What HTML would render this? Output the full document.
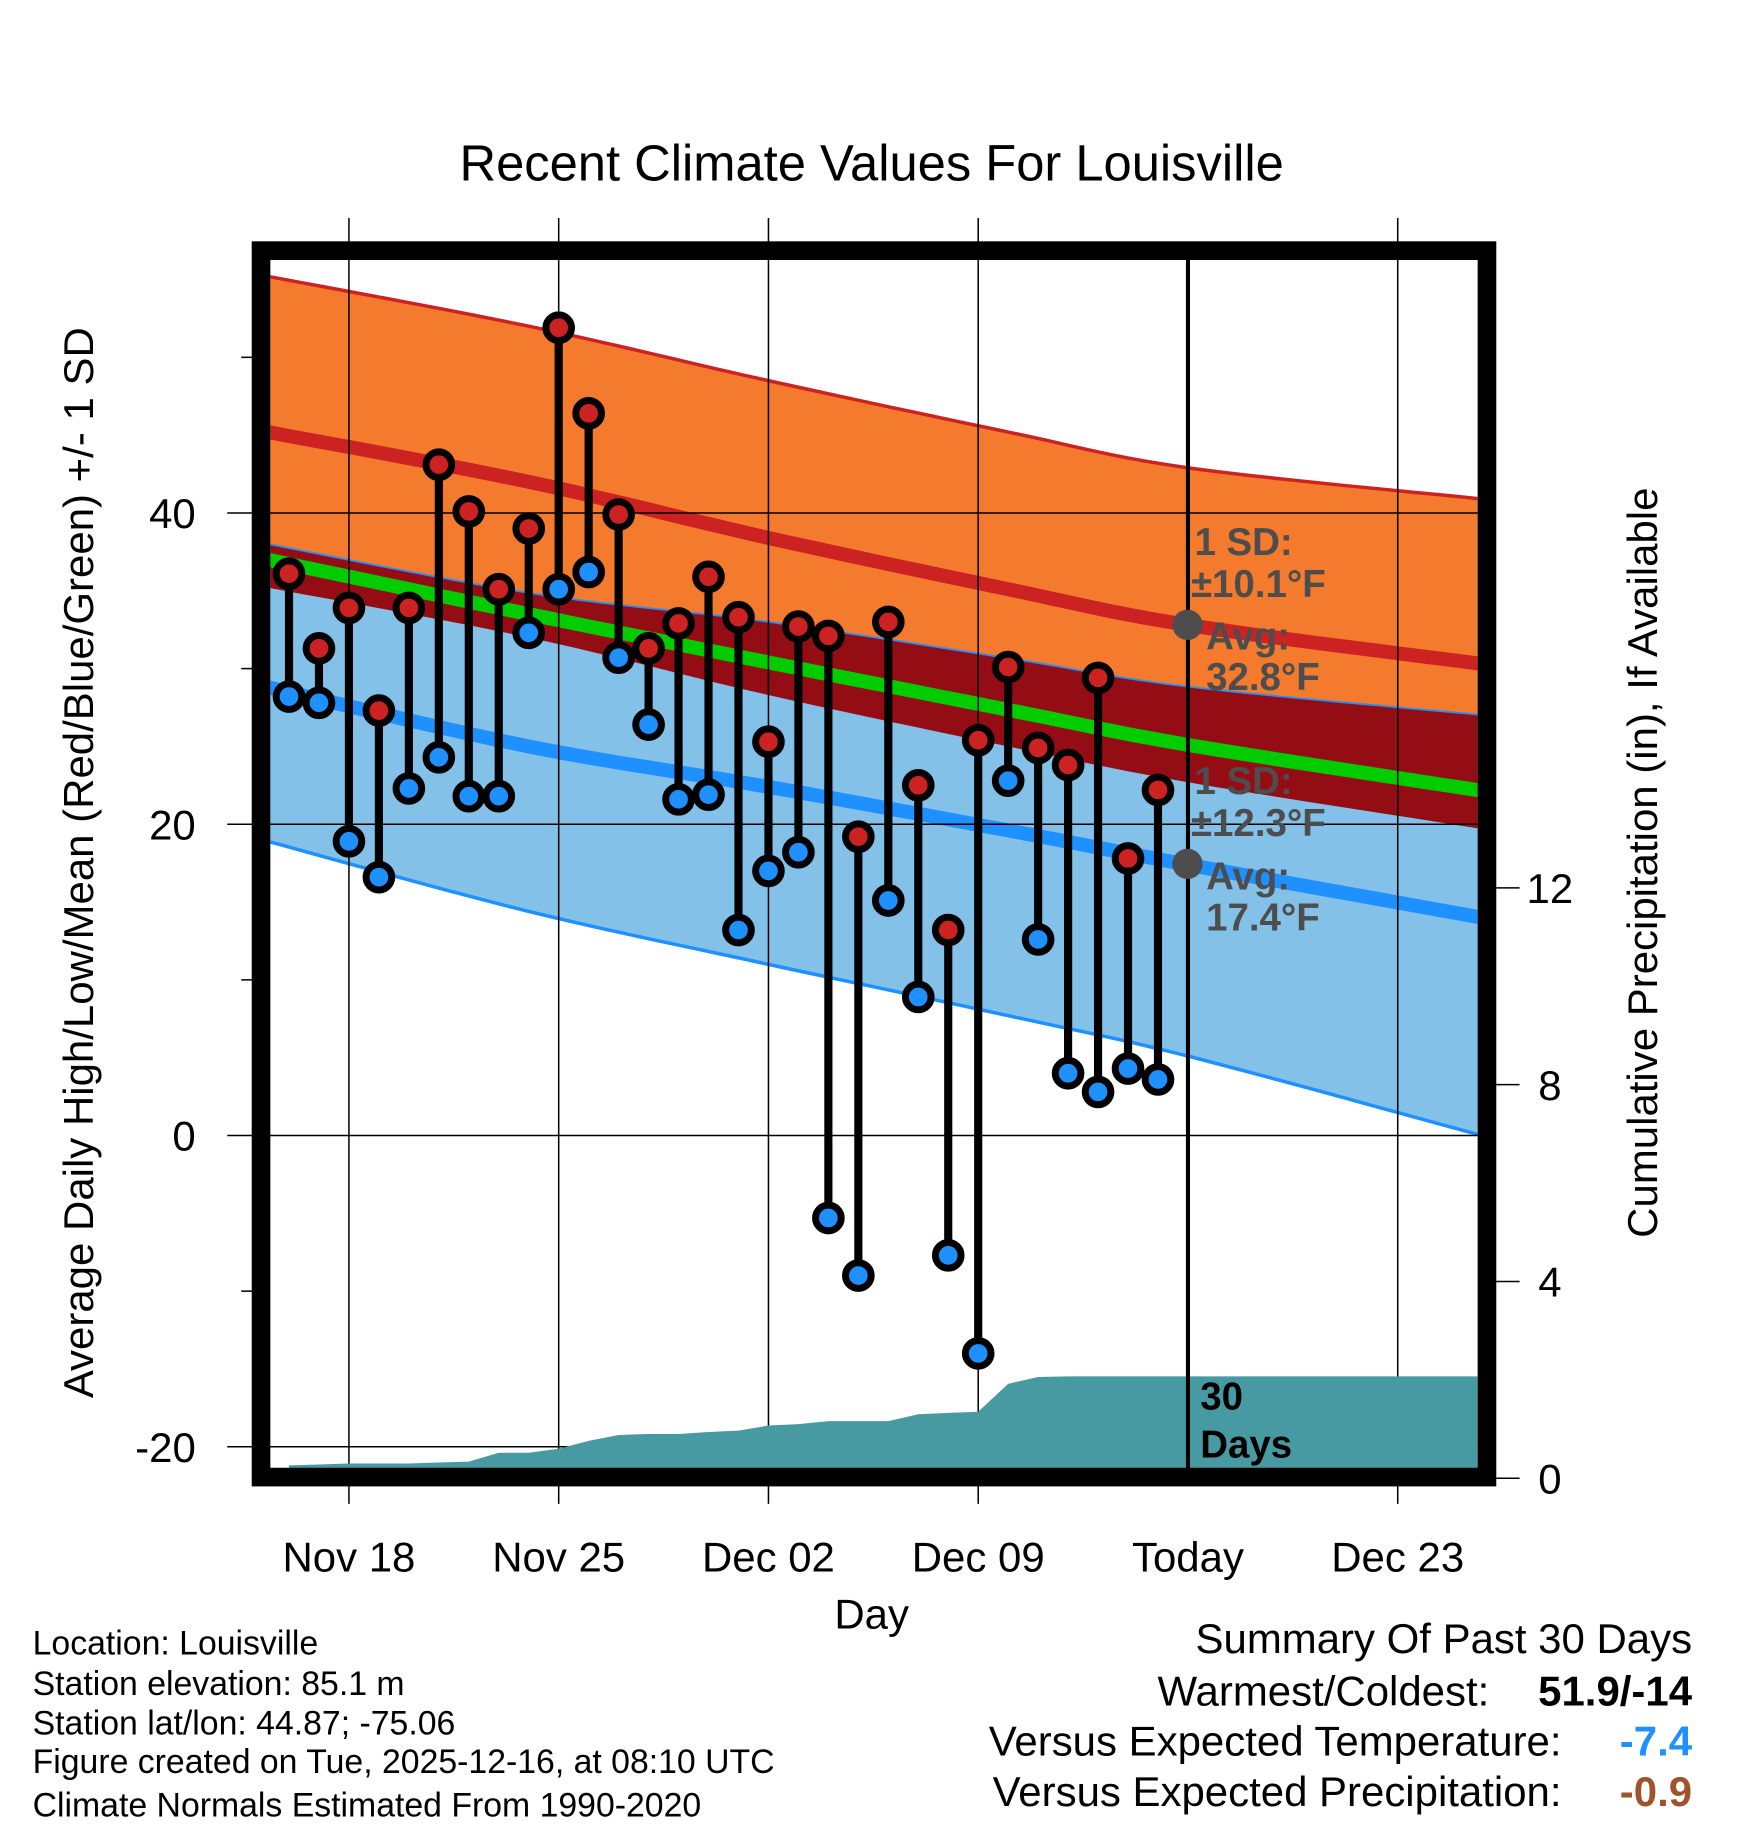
<!DOCTYPE html>
<html><head><meta charset="utf-8">
<style>
html,body{margin:0;padding:0;background:#fff;}
svg{display:block;font-family:"Liberation Sans",Arial,sans-serif;}
</style></head>
<body>
<svg id="chart" width="1748" height="1828" viewBox="0 0 1500 1568" preserveAspectRatio="none" xmlns="http://www.w3.org/2000/svg">
<defs><clipPath id="plotclip"><rect x="232" y="222" width="1036" height="1038"/></clipPath></defs>
<rect width="1500" height="1568" fill="#fff"/>
<text x="748" y="155" font-size="43.5" text-anchor="middle">Recent Climate Values For Louisville</text>
<g id="normals" clip-path="url(#plotclip)"></g>
<g id="grid"></g>
<g id="precip" clip-path="url(#plotclip)"></g>
<g id="series"></g>
<g id="annot" font-weight="bold" font-size="33" fill="#4d4d4d">
<text x="1025" y="476">1 SD:</text>
<text x="1022" y="512">±10.1°F</text>
<circle cx="1019" cy="536" r="13" fill="#4d4d4d"/>
<text x="1035" y="557">Avg:</text>
<text x="1035" y="592">32.8°F</text>
<text x="1025" y="681">1 SD:</text>
<text x="1022" y="717">±12.3°F</text>
<circle cx="1019" cy="741" r="13" fill="#4d4d4d"/>
<text x="1035" y="763">Avg:</text>
<text x="1035" y="798">17.4°F</text>
<text x="1030" y="1209" fill="#000">30</text>
<text x="1030" y="1250" fill="#000">Days</text>
</g>
<rect x="224" y="215" width="1052" height="1052" fill="none" stroke="#000" stroke-width="16"/>
<g id="axes"></g>
<text x="748" y="1397" font-size="36" text-anchor="middle">Day</text>
<text transform="translate(80,740) rotate(-90)" font-size="36" text-anchor="middle">Average Daily High/Low/Mean (Red/Blue/Green) +/- 1 SD</text>
<text transform="translate(1422,740) rotate(-90)" font-size="36" text-anchor="middle">Cumulative Precipitation (in), If Available</text>
<g font-size="29">
<text x="28" y="1419">Location: Louisville</text>
<text x="28" y="1454">Station elevation: 85.1 m</text>
<text x="28" y="1488">Station lat/lon: 44.87; -75.06</text>
<text x="28" y="1521">Figure created on Tue, 2025-12-16, at 08:10 UTC</text>
<text x="28" y="1558">Climate Normals Estimated From 1990-2020</text>
</g>
<g font-size="36">
<text x="1452" y="1418" text-anchor="end">Summary Of Past 30 Days</text>
<text x="1278" y="1463" text-anchor="end">Warmest/Coldest:</text>
<text x="1452" y="1463" text-anchor="end" font-weight="bold">51.9/-14</text>
<text x="1340" y="1506" text-anchor="end">Versus Expected Temperature:</text>
<text x="1452" y="1506" text-anchor="end" font-weight="bold" fill="#1e90ff">-7.4</text>
<text x="1340" y="1549" text-anchor="end">Versus Expected Precipitation:</text>
<text x="1452" y="1549" text-anchor="end" font-weight="bold" fill="#a0522d">-0.9</text>
</g>
</svg>
<script>
// ---- data ----
const normalDays = [-0.7, 8, 16, 24, 30, 39.8];
const highMean = [45.2, 42.0, 38.4, 35.1, 32.8, 30.3];
const highSD = [10.0, 10.0, 10.1, 10.1, 10.1, 10.6];
const lowMean = [28.8, 25.0, 22.4, 19.6, 17.4, 14.0];
const lowSD = [9.9, 10.6, 11.4, 11.9, 12.3, 14.0];
const dayLabels = ["Nov 16","Nov 17","Nov 18","Nov 19","Nov 20","Nov 21","Nov 22","Nov 23","Nov 24","Nov 25","Nov 26","Nov 27","Nov 28","Nov 29","Nov 30","Dec 01","Dec 02","Dec 03","Dec 04","Dec 05","Dec 06","Dec 07","Dec 08","Dec 09","Dec 10","Dec 11","Dec 12","Dec 13","Dec 14","Dec 15"];
const highs = [36.1,31.3,33.9,27.3,33.9,43.1,40.1,35.1,39.0,51.9,46.4,39.9,31.3,32.9,35.9,33.3,25.3,32.7,32.1,19.2,33.0,22.5,13.2,25.4,30.1,24.9,23.8,29.4,17.8,22.2];
const lows = [28.2,27.8,18.9,16.6,22.3,24.3,21.8,21.8,32.3,35.1,36.2,30.7,26.4,21.6,21.9,13.2,17.0,18.2,-5.3,-9.0,15.1,8.9,-7.7,-14.0,22.8,12.6,4.0,2.8,4.3,3.6];
const precip = [0.26,0.28,0.30,0.30,0.30,0.32,0.34,0.52,0.52,0.60,0.76,0.88,0.90,0.90,0.94,0.97,1.07,1.10,1.16,1.16,1.16,1.30,1.33,1.35,1.92,2.06,2.07,2.07,2.07,2.07];
const xTickDays = [2, 9, 16, 23, 30, 37];
const xTickLabels = ["Nov 18","Nov 25","Dec 02","Dec 09","Today","Dec 23"];
const yTicks = [40, 20, 0, -20];
const yMinor = [50, 30, 10, -10];
const y2Ticks = [0, 4, 8, 12];

// ---- scales ----
const X = d => 248 + 25.714 * d;
const Y = t => 974 - 13.35 * t;
const Y2 = p => 1268 - 42.2 * p;
const NS = "http://www.w3.org/2000/svg";
function mk(tag, attrs, parent){const e=document.createElementNS(NS,tag);for(const k in attrs)e.setAttribute(k,attrs[k]);parent.appendChild(e);return e;}
// smooth (Catmull-Rom) sampling of a series through its data points
function smooth(arr){
  const P = arr.map((v,i)=>[X(normalDays[i]), Y(v)]);
  const out = [];
  for (let i=0;i<P.length-1;i++){
    const p0=P[Math.max(0,i-1)], p1=P[i], p2=P[i+1], p3=P[Math.min(P.length-1,i+2)];
    for (let k=0;k<10;k++){
      const t=k/10, t2=t*t, t3=t2*t;
      const f=(a,b,c,d)=>0.5*((2*b)+(-a+c)*t+(2*a-5*b+4*c-d)*t2+(-a+3*b-3*c+d)*t3);
      out.push(f(p0[0],p1[0],p2[0],p3[0]).toFixed(1)+","+f(p0[1],p1[1],p2[1],p3[1]).toFixed(1));
    }
  }
  const L=P[P.length-1]; out.push(L[0].toFixed(1)+","+L[1].toFixed(1));
  return out;
}

const hiUp = highMean.map((m,i)=>m+highSD[i]);
const hiDn = highMean.map((m,i)=>m-highSD[i]);
const loUp = lowMean.map((m,i)=>m+lowSD[i]*0.93);
const loDn = lowMean.map((m,i)=>m-lowSD[i]);
const mean = highMean.map((m,i)=>(m+lowMean[i])/2);

const gN = document.getElementById('normals');
let p;
p = mk('polygon',{points:smooth(hiUp).concat(smooth(hiDn).reverse()).join(' '),fill:'#f47a2e'},gN);


p = mk('polygon',{points:smooth(loUp).concat(smooth(loDn).reverse()).join(' '),fill:'#83c1e8'},gN);


p = mk('polygon',{points:smooth(loUp).concat(smooth(hiDn).reverse()).join(' '),fill:'#940d14'},gN);


const lines = [[hiUp,'#cc2222',3,'high-plus-sd-line'],[highMean,'#cc2222',12,'high-mean-line'],[loUp,'#1e90ff',1.5,'low-plus-sd-line'],[loDn,'#1e90ff',3,'low-minus-sd-line'],[lowMean,'#1e90ff',12,'low-mean-line'],[mean,'#00cc00',12,'mean-line']];
lines.forEach(l=>{
  const e = mk('polyline',{points:smooth(l[0]).join(' '),fill:'none',stroke:l[1],'stroke-width':l[2]},gN);
  
  
});

// grid
const gG = document.getElementById('grid');
xTickDays.forEach((d,i)=>{
  if (xTickLabels[i]==="Today") return;
  const e = mk('line',{x1:X(d),x2:X(d),y1:187,y2:1290,stroke:'#000','stroke-width':1.3},gG);
  
  
});
yTicks.forEach(t=>{
  const e = mk('line',{x1:195,x2:1268,y1:Y(t),y2:Y(t),stroke:'#000','stroke-width':1.3},gG);
  
  
});
yMinor.forEach(t=>{
  const e = mk('line',{x1:207,x2:218,y1:Y(t),y2:Y(t),stroke:'#000','stroke-width':1.3},gG);
  
  
});

// precip
const gP = document.getElementById('precip');
const pp = precip.map((v,i)=>X(i).toFixed(1)+","+Y2(v).toFixed(1));
pp.push("1268,"+Y2(precip[precip.length-1]).toFixed(1));
const pe = mk('polygon',{points:[X(0)+",1262"].concat(pp).concat(["1268,1262"]).join(' '),fill:'#479aa2'},gP);



// series
const gS = document.getElementById('series');
const tl = mk('line',{x1:X(30),x2:X(30),y1:222,y2:1262,stroke:'#000','stroke-width':3.5},gS);


highs.forEach((h,i)=>{
  const s = mk('line',{x1:X(i),x2:X(i),y1:Y(h),y2:Y(lows[i]),stroke:'#000','stroke-width':7},gS);
  
  
});
highs.forEach((h,i)=>{
  const c1 = mk('circle',{cx:X(i),cy:Y(h),r:11,fill:'#cc2222',stroke:'#000','stroke-width':6},gS);
  
  
  const c2 = mk('circle',{cx:X(i),cy:Y(lows[i]),r:11,fill:'#1e90ff',stroke:'#000','stroke-width':6},gS);
  
  
});

// axes labels
const gA = document.getElementById('axes');
xTickDays.forEach((d,i)=>{
  const t = mk('text',{x:X(d),y:1348,'font-size':36,'text-anchor':'middle'},gA);
  t.textContent = xTickLabels[i];
  
  
});
yTicks.forEach(v=>{
  const t = mk('text',{x:168,y:Y(v)+13,'font-size':36,'text-anchor':'end'},gA);
  t.textContent = v;
  
  
});
y2Ticks.forEach(v=>{
  const l = mk('line',{x1:1284,x2:1304,y1:Y2(v),y2:Y2(v),stroke:'#000','stroke-width':1.3},gA);
  
  
  const t = mk('text',{x:1330,y:Y2(v)+13,'font-size':36,'text-anchor':'middle'},gA);
  t.textContent = v;
  
  
});
</script>
</body></html>
